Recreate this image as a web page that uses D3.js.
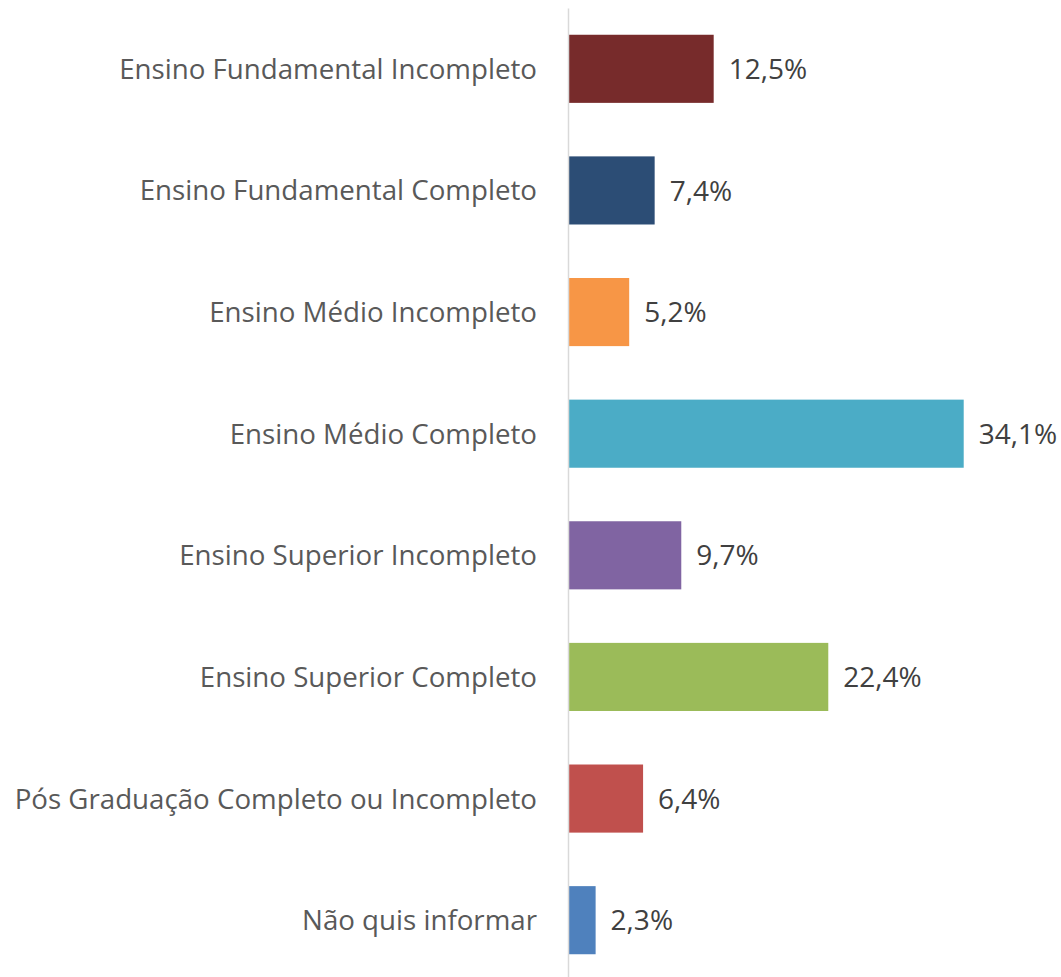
<!DOCTYPE html>
<html>
<head>
<meta charset="utf-8">
<script src="https://cdn.jsdelivr.net/npm/d3@7"></script>
<style>
  body { margin: 0; background: #fff; }
  .container text { font-family: "Open Sans", "Noto Sans", sans-serif; }
</style>
</head>
<body>
<div class="container"></div>
<script>
// dados
const categorias = [
  "Ensino Fundamental Incompleto",
  "Ensino Fundamental Completo",
  "Ensino Médio Incompleto",
  "Ensino Médio Completo",
  "Ensino Superior Incompleto",
  "Ensino Superior Completo",
  "Pós Graduação Completo ou Incompleto",
  "Não quis informar"
]
const valores = [12.5, 7.4, 5.2, 34.1, 9.7, 22.4, 6.4, 2.3]
const rotulos = ["12,5%", "7,4%", "5,2%", "34,1%", "9,7%", "22,4%", "6,4%", "2,3%"]
const cores = ["#772B2B", "#2C4D75", "#F79646", "#4BACC6", "#8064A2", "#9BBB59", "#C0504D", "#4F81BD"]

const width = 1061
const height = 977
const margin = {top: 8, bottom: 0, left: 568, right: 30}

const svg = d3.select(".container").append("svg").attr("width", width).attr("height", height)
const elementGroup = svg.append("g").attr("id", "elementGroup")
const axisGroup = svg.append("g").attr("id", "axisGroup").attr("transform", `translate(${margin.left},0)`)

const x = d3.scaleLinear().domain([0, 40]).range([margin.left, margin.left + 463])
const y = d3.scaleBand().domain(categorias).range([margin.top, 981]).paddingInner(0.44).paddingOuter(0.22)

const data = categorias.map((c, i) => ({cat: c, val: valores[i], lab: rotulos[i], cor: cores[i]}))

elementGroup.selectAll("rect").data(data)
  .join("rect")
    .attr("x", x(0) + 1)
    .attr("y", d => y(d.cat))
    .attr("width", d => x(d.val) - x(0))
    .attr("height", y.bandwidth())
    .style("fill", d => d.cor)

elementGroup.selectAll("text.valor").data(data)
  .join("text")
    .attr("class", "valor")
    .attr("x", d => x(d.val) + 16)
    .attr("y", d => y(d.cat) + y.bandwidth() / 2)
    .attr("dy", "0.36em")
    .style("font-size", "28px")
    .style("fill", "#404040")
    .text(d => d.lab)

const yAxis = d3.axisLeft(y).tickSize(0).tickPadding(31)
axisGroup.call(yAxis)
axisGroup.select(".domain").attr("stroke", "#d9d9d9").attr("stroke-width", 1.5)
axisGroup.selectAll(".tick text")
  .attr("dy", "0.36em")
  .style("font-size", "27.7px")
  .style("fill", "#595959")
</script>
</body>
</html>
